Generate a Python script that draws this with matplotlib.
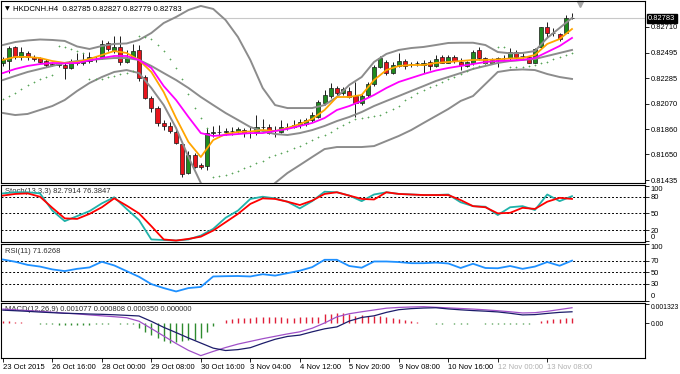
import numpy as np
import matplotlib.pyplot as plt
from matplotlib.transforms import blended_transform_factory as blend

plt.rcParams['font.family'] = ['Liberation Sans', 'DejaVu Sans']

# HKDCNH H4 candles, prices in points (1e-5)
o = [82408, 82430, 82541, 82458, 82491, 82458, 82450, 82430, 82401, 82398,
     82394, 82366, 82430, 82408, 82430, 82443, 82458, 82575, 82519, 82546,
     82421, 82458, 82519, 82297, 82117, 82034, 81914, 81887, 81839, 81737,
     81493, 81646, 81560, 81557, 81826, 81839, 81841, 81845, 81845, 81853,
     81843, 81839, 81878, 81881, 81851, 81839, 81880, 81881, 81895, 81903,
     81937, 81964, 82075, 82136, 82200, 82164, 82180, 82136, 82080, 82145,
     82236, 82380, 82421, 82330, 82386, 82430, 82400, 82408, 82396, 82421,
     82386, 82458, 82413, 82458, 82421, 82386, 82408, 82519, 82450, 82436,
     82436, 82449, 82450, 82500, 82468, 82458, 82413, 82546, 82707, 82658,
     82652, 82663, 82785]
h = [82461, 82552, 82552, 82546, 82513, 82475, 82463, 82441, 82413, 82413,
     82411, 82441, 82491, 82491, 82505, 82469, 82602, 82596, 82635, 82635,
     82519, 82569, 82560, 82311, 82136, 82053, 81937, 81922, 81868, 81756,
     81681, 81664, 81576, 81867, 81887, 81895, 81867, 81876, 81881, 81867,
     81876, 81978, 81942, 81903, 81887, 81937, 81912, 81937, 81945, 81951,
     82006, 82103, 82186, 82242, 82219, 82213, 82213, 82255, 82159, 82255,
     82394, 82469, 82436, 82421, 82491, 82441, 82421, 82430, 82436, 82436,
     82477, 82477, 82477, 82477, 82450, 82430, 82519, 82546, 82463, 82450,
     82463, 82477, 82533, 82519, 82491, 82469, 82533, 82713, 82754, 82699,
     82663, 82810, 82827]
l = [82386, 82325, 82441, 82436, 82436, 82430, 82408, 82380, 82386, 82380,
     82275, 82358, 82394, 82394, 82413, 82421, 82441, 82513, 82491, 82394,
     82408, 82441, 82263, 82109, 82006, 81887, 81853, 81826, 81737, 81460,
     81487, 81535, 81527, 81521, 81795, 81798, 81812, 81812, 81826, 81798,
     81784, 81812, 81839, 81820, 81793, 81826, 81853, 81867, 81867, 81887,
     81922, 81951, 82061, 82117, 82145, 82145, 82117, 81964, 82061, 82125,
     82219, 82366, 82311, 82319, 82375, 82358, 82375, 82386, 82325, 82352,
     82380, 82408, 82408, 82408, 82352, 82380, 82394, 82436, 82402, 82402,
     82380, 82436, 82436, 82441, 82450, 82408, 82408, 82525, 82625, 82635,
     82596, 82657, 82779]
c = [82441, 82533, 82458, 82505, 82458, 82441, 82419, 82394, 82398, 82401,
     82366, 82430, 82408, 82436, 82463, 82441, 82569, 82525, 82541, 82421,
     82452, 82513, 82283, 82117, 82034, 81909, 81887, 81845, 81748, 81487,
     81646, 81548, 81543, 81826, 81839, 81841, 81845, 81845, 81860, 81826,
     81845, 81881, 81880, 81831, 81853, 81876, 81881, 81895, 81922, 81937,
     81978, 82089, 82145, 82200, 82159, 82192, 82130, 82080, 82136, 82236,
     82380, 82450, 82330, 82394, 82430, 82386, 82402, 82410, 82408, 82386,
     82441, 82413, 82458, 82430, 82394, 82416, 82500, 82450, 82413, 82413,
     82450, 82450, 82500, 82463, 82469, 82413, 82525, 82707, 82663, 82657,
     82608, 82782, 82783]

# indicator lines read every 2nd bar (points)
bb_up = [82560, 82585, 82598, 82606, 82602, 82594, 82548, 82527, 82552, 82569,
         82573, 82602, 82660, 82743, 82793, 82851, 82885, 82860, 82768, 82627,
         82436, 82203, 82061, 82036, 82036, 82036, 82061, 82128, 82228, 82294,
         82419, 82486, 82519, 82535, 82544, 82560, 82577, 82579, 82579, 82560,
         82502, 82491, 82494, 82510, 82619, 82702, 82785]
bb_mid = [82269, 82303, 82336, 82361, 82386, 82411, 82427, 82436, 82444, 82452,
          82452, 82436, 82386, 82327, 82269, 82203, 82128, 82061, 81995, 81937,
          81878, 81845, 81820, 81812, 81828, 81853, 81887, 81928, 81962, 82003,
          82053, 82095, 82136, 82178, 82219, 82261, 82294, 82327, 82361, 82386,
          82411, 82427, 82436, 82444, 82469, 82494, 82519]
bb_low = [81995, 81978, 81987, 82020, 82053, 82103, 82178, 82244, 82294, 82336,
          82352, 82327, 82203, 82061, 81870, 81629, 81413, 81271, 81188, 81171,
          81205, 81313, 81413, 81496, 81562, 81629, 81695, 81712, 81712, 81712,
          81720, 81762, 81804, 81853, 81912, 81970, 82028, 82095, 82136, 82236,
          82336, 82352, 82357, 82352, 82319, 82294, 82278]
ma_fast = [82436, 82461, 82461, 82452, 82427, 82411, 82419, 82444, 82477, 82510,
           82494, 82436, 82336, 82169, 81953, 81754, 81629, 81770, 81820, 81837,
           81841, 81853, 81845, 81870, 81903, 81945, 82020, 82128, 82128, 82145,
           82269, 82352, 82386, 82394, 82394, 82411, 82419, 82427, 82436, 82436,
           82440, 82448, 82452, 82477, 82569, 82610, 82693]
ma_slow = [82327, 82361, 82386, 82402, 82411, 82407, 82411, 82431, 82452, 82469,
           82469, 82436, 82369, 82219, 82103, 81962, 81828, 81804, 81812, 81820,
           81828, 81828, 81845, 81862, 81887, 81912, 81953, 82020, 82053, 82095,
           82145, 82203, 82253, 82286, 82319, 82348, 82369, 82386, 82402, 82419,
           82427, 82431, 82436, 82452, 82502, 82552, 82619]
sar = [82114, 82136, 82164, 82197, 82228, 82255, 82278, 82294, 82307,
       82552, 82541, 82525, 82510, 82494,
       82275, 82275, 82280, 82292, 82303, 82315, 82327, 82344,
       82635, 82627, 82608, 82560, 82513, 82441, 82367, 82275, 82153, 82034, 81951, 81868,
       81463, 81471, 81479, 81498, 81515, 81535, 81554, 81577, 81598, 81626,
       81646, 81660, 81679, 81701, 81720, 81743, 81770, 81793, 81812, 81839,
       81868, 81895, 81920, 81941, 81951, 81959, 81970, 81981, 82006, 82028,
       82053, 82103, 82125, 82159, 82186, 82209, 82228, 82255, 82278, 82297,
       82319, 82347, 82367, 82388, 82408, 82423,
       82546, 82546, 82380, 82380, 82380, 82386, 82394, 82413, 82421, 82441,
       82463, 82477, 82496]

stoch_main = [86, 88, 88, 86, 55, 36, 45, 54, 68, 79, 58, 38, 3, 2, 1, 3, 10, 22,
              42, 55, 76, 80, 77, 71, 59, 72, 89, 88, 82, 72, 84, 88, 85, 84, 83,
              83, 84, 70, 63, 62, 47, 61, 63, 56, 84, 72, 81]
stoch_sig = [82, 85, 86, 80, 60, 41, 40, 49, 61, 77, 64, 50, 27, 3, 1, 4, 8, 19,
             34, 49, 67, 77, 76, 71, 65, 73, 85, 88, 82, 76, 75, 88, 85, 84, 83,
             83, 83, 74, 63, 61, 50, 51, 60, 58, 71, 78, 76]
rsi = [72.5, 68.5, 63, 60, 55, 52, 56, 58.5, 68.5, 62, 52, 42, 29, 22, 16, 22,
       24, 42.5, 43, 43.3, 42.5, 46.5, 44, 48.3, 52.7, 59, 72, 72, 61, 58, 69,
       69, 68, 66, 66, 67, 65.5, 57.5, 65, 57.5, 57, 61, 56, 60, 68, 61.5, 70.5]
macd = [0.00095, 0.00090, 0.00085, 0.00080, 0.00074, 0.00068, 0.00063, 0.00056,
        0.00050, 0.00044, 0.00037, 0.00014, -0.00035, -0.00085, -0.00135,
        -0.00181, -0.00216, -0.00188, -0.00162, -0.00139, -0.00121, -0.00103,
        -0.00087, -0.00071, -0.00057, -0.00033, 0.00002, 0.00043, 0.00064,
        0.00077, 0.00089, 0.00101, 0.00106, 0.00109, 0.00111, 0.00107, 0.00103,
        0.00099, 0.00095, 0.00090, 0.00084, 0.00077, 0.00069, 0.00071, 0.00080,
        0.00092, 0.00104]
macd_sig = [0.00088, 0.00084, 0.00080, 0.00075, 0.00071, 0.00067, 0.00065,
            0.00062, 0.00060, 0.00057, 0.00053, 0.00049, 0.00013, -0.00027,
            -0.00062, -0.00098, -0.00132, -0.00166, -0.00182, -0.00176, -0.00163,
            -0.00134, -0.00107, -0.00088, -0.00079, -0.00057, -0.00037, -0.00024,
            0.00015, 0.00039, 0.00050, 0.00073, 0.00091, 0.00098, 0.00102,
            0.00104, 0.00096, 0.00090, 0.00085, 0.00081, 0.00076, 0.00067,
            0.00056, 0.00058, 0.00066, 0.00073, 0.00077]
hist = [0.00012, 0.00012, 0.00010, 0.00010, 0.00003, 0.00003, -0.00002, -0.00002, -0.00008, -0.00010,
        -0.00012, -0.00012, -0.00010, -0.00010, -0.00010, -0.00008, -0.00003, -0.00002, 0.00002, -0.00002,
        -0.00004, -0.00006, -0.00030, -0.00060, -0.00080, -0.00100, -0.00120, -0.00130, -0.00125, -0.00120,
        -0.00110, -0.00110, -0.00100, -0.00060, -0.00020, 0.00005, 0.00025, 0.00030, 0.00035, 0.00035,
        0.00038, 0.00040, 0.00040, 0.00040, 0.00040, 0.00040, 0.00038, 0.00038, 0.00040, 0.00040,
        0.00042, 0.00045, 0.00060, 0.00065, 0.00067, 0.00067, 0.00060, 0.00051, 0.00055, 0.00051,
        0.00051, 0.00047, 0.00042, 0.00037, 0.00029, 0.00024, 0.00015, 0.00007, 0.00003, 0.00003,
        -0.00003, -0.00003, 0.00002, -0.00003, -0.00004, -0.00003, 0.00003, 0.00002, -0.00003, -0.00004,
        -0.00004, -0.00003, -0.00003, -0.00002, -0.00003, -0.00004, 0.00003, 0.00015, 0.00022, 0.00028,
        0.00030, 0.00033, 0.00035]

time_labels = ['23 Oct 2015', '26 Oct 16:00', '28 Oct 00:00', '29 Oct 08:00',
               '30 Oct 16:00', '3 Nov 04:00', '4 Nov 12:00', '5 Nov 20:00',
               '9 Nov 08:00', '10 Nov 16:00', '12 Nov 00:00', '13 Nov 08:00']
price_ticks = [0.81435, 0.81650, 0.81860, 0.82070, 0.82285, 0.82495, 0.82710]

pt = 1e-5
O, H, L, C = [np.array(v) * pt for v in (o, h, l, c)]
bars = np.arange(len(C))
kb = np.arange(0, len(C), 2)

W, HT = 680, 374
fig = plt.figure(figsize=(6.8, 3.74), dpi=100)
fig.patch.set_facecolor('white')


def pane(top, bottom):
    a = fig.add_axes([1 / W, 1 - bottom / HT, 644 / W, (bottom - top) / HT])
    a.set_xlim(-0.3, 103.8)
    a.yaxis.tick_right()
    a.tick_params(axis='y', labelsize=5.4, length=3, width=0.6, pad=1)
    a.tick_params(axis='x', bottom=False, labelbottom=False)
    for s in a.spines.values():
        s.set_linewidth(0.8)
    return a


ax = pane(1, 183)
ax_st = pane(184.5, 242)
ax_rsi = pane(243.5, 300.5)
ax_m = pane(302.5, 358)

# ---- main price pane ----
ax.set_ylim(0.81413, 0.82926)
ax.set_yticks(price_ticks)
ax.set_yticklabels(['%.5f' % p for p in price_ticks])
ax.axhline(C[-1], color='#c8c8c8', lw=0.8, zorder=1)

up = C >= O
ax.vlines(bars, L, H, color='#1a1a1a', lw=0.7, zorder=2)
ax.bar(bars, np.maximum(np.abs(C - O), 0.000012), bottom=np.minimum(O, C),
       width=0.66, color=np.where(up, '#1f8a1f', '#e8141c'),
       edgecolor='#1a1a1a', linewidth=0.5, zorder=2.5)

for band in (bb_up, bb_mid, bb_low):
    ax.plot(kb, np.array(band) * pt, color='#8c8c8c', lw=1.4, zorder=3)
ax.plot(kb, np.array(ma_fast) * pt, color='#ffa500', lw=1.3, zorder=4)
ax.plot(kb, np.array(ma_slow) * pt, color='#ff00ff', lw=1.3, zorder=4)
ax.plot(bars, np.array(sar) * pt, ls='none', marker='+', ms=1.8, mew=0.5,
        color='#5aa55a', zorder=4)

ax.text(0.006, 0.956, '\u25bc', transform=ax.transAxes, fontsize=4.5,
        va='center', ha='left', family=['DejaVu Sans'])
ax.text(0.019, 0.956, 'HKDCNH.H4  0.82785 0.82827 0.82779 0.82783',
        transform=ax.transAxes, fontsize=5.6, va='center', ha='left')
ax.text(1.005, C[-1], '%.5f' % C[-1], transform=blend(ax.transAxes, ax.transData),
        fontsize=5.4, color='white', va='center', ha='left',
        bbox=dict(boxstyle='square,pad=0.15', fc='black', ec='black'))
ax.plot([0.899], [0.985], transform=ax.transAxes, marker='v', ms=4,
        color='#a8a8a8', clip_on=False)

# ---- stochastic ----
ax_st.set_ylim(-1.6, 102)
for v in (80, 50, 20):
    ax_st.axhline(v, color='black', lw=0.7, ls=(0, (2, 2)), zorder=1)
ax_st.plot(kb, stoch_main, color='#20b2aa', lw=1.3, zorder=3)
ax_st.plot(kb, stoch_sig, color='#ff0000', lw=1.3, zorder=3)
ax_st.set_yticks([0, 20, 50, 80, 100])
ax_st.set_yticklabels(['0', '20', '50', '80', '100'])
ax_st.text(0.006, 0.87, 'Stoch(13,3,3) 82.7914 76.3847', transform=ax_st.transAxes,
           fontsize=5.5, va='center', color='#303030', zorder=2)

# ---- RSI ----
ax_rsi.set_ylim(0.4, 100.8)
for v in (70, 50, 30):
    ax_rsi.axhline(v, color='black', lw=0.7, ls=(0, (2, 2)), zorder=1)
ax_rsi.plot(kb, rsi, color='#1e90ff', lw=1.3, zorder=3)
ax_rsi.set_yticks([0, 30, 50, 70, 100])
ax_rsi.set_yticklabels(['0', '30', '50', '70', '100'])
ax_rsi.text(0.006, 0.868, 'RSI(11) 71.6268', transform=ax_rsi.transAxes,
            fontsize=5.5, va='center', color='#303030', zorder=2)

# ---- MACD ----
ax_m.set_ylim(-0.00232, 0.00139)
hv = np.array(hist)
ax_m.vlines(bars, 0, hv, colors=np.where(hv >= 0, '#e0203a', '#2e8b2e'), lw=1.0, zorder=2)
ax_m.plot(kb, macd, color='#a050c8', lw=0.9, zorder=3)
ax_m.plot(kb, macd_sig, color='#1c1c6a', lw=0.9, zorder=3)
ax_m.set_yticks([0.0, 0.001323])
ax_m.set_yticklabels(['0.00', '0.001323'])
ax_m.tick_params(axis='y', labelsize=4.9)
ax_m.text(0.006, 0.865, 'MACD(12,26,9) 0.001077 0.000808 0.000350 0.000000',
          transform=ax_m.transAxes, fontsize=5.5, va='center', color='#303030', zorder=1)

for a in (ax_st, ax_rsi, ax_m):
    labs = a.get_yticklabels()
    labs[-1].set_va('top')
    if a is not ax_m:
        labs[0].set_va('bottom')

ax_m.set_xticks(np.arange(0, 89, 8))
ax_m.set_xticklabels(time_labels)
ax_m.tick_params(axis='x', bottom=True, labelbottom=True, labelsize=5.5,
                 length=3, width=0.6, pad=1)
for i, t in enumerate(ax_m.get_xticklabels()):
    t.set_ha('left')
    if i >= 10:
        t.set_color('#b0b0b0')

fig.savefig('out.png', dpi=100, facecolor='white')
